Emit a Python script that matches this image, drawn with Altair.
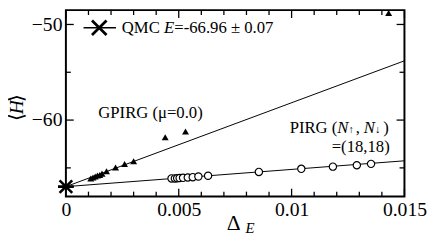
import altair as alt
import pandas as pd

# ---------------- data ----------------
gp_x = [0.0011, 0.0012, 0.0013, 0.0014, 0.0015, 0.0016, 0.0018, 0.0022, 0.0026, 0.0030, 0.0044, 0.0053, 0.0143]
gp_y = [-66.1, -66.0, -65.9, -65.8, -65.75, -65.6, -65.35, -64.95, -64.6, -64.3, -61.8, -61.2, -48.8]

pirg_x = [0.00468, 0.00483, 0.00493, 0.00504, 0.00519, 0.0054, 0.00562, 0.00587, 0.0063,
          0.00855, 0.01043, 0.01183, 0.01289, 0.01352]
pirg_y = [-66.1, -66.1, -66.08, -66.06, -66.04, -66.0, -65.97, -65.9, -65.82,
          -65.42, -65.1, -64.87, -64.72, -64.58]

fit_x = [0.0, 0.015]
gp_fit_y = [-66.96, -53.8]
pirg_fit_y = [-66.96, -64.26]

qmc_x = [0.0]
qmc_y = [-66.96]

x_major = [0.0, 0.005, 0.01, 0.015]
x_minor = [0.001, 0.002, 0.003, 0.004, 0.006, 0.007, 0.008, 0.009, 0.011, 0.012, 0.013, 0.014]
y_major = [-50, -60]
y_minor = [-55, -65]

W, H = 345, 190
FONT = "Times New Roman, Liberation Serif, serif"

xs = alt.Scale(domain=[0, 0.015], nice=False, zero=False)
ys = alt.Scale(domain=[-68, -48.5], nice=False, zero=False)

xaxis = alt.Axis(values=x_major, ticks=False, domain=False, grid=False,
                 labelFont=FONT, labelFontSize=20, labelColor="black",
                 labelPadding=3, labelFlush=False, labelOverlap=False,
                 labelExpr="datum.value == 0 ? '0' : toString(datum.value)", title=None)
yaxis = alt.Axis(values=y_major, ticks=False, domain=False, grid=False,
                 labelFont=FONT, labelFontSize=20, labelColor="black",
                 labelPadding=4, labelFlush=False, labelOverlap=False, title=None)

df_gp = pd.DataFrame({"x": gp_x, "y": gp_y})
df_pirg = pd.DataFrame({"x": pirg_x, "y": pirg_y})
df_gpfit = pd.DataFrame({"x": fit_x, "y": gp_fit_y})
df_pfit = pd.DataFrame({"x": fit_x, "y": pirg_fit_y})
df_qmc = pd.DataFrame({"x": qmc_x, "y": qmc_y})

X = alt.X("x:Q", scale=xs, axis=xaxis)
Y = alt.Y("y:Q", scale=ys, axis=yaxis)

gp_fit = alt.Chart(df_gpfit).mark_line(color="black", strokeWidth=1).encode(x=X, y=Y)
p_fit = alt.Chart(df_pfit).mark_line(color="black", strokeWidth=1).encode(x=X, y=Y)

tri = alt.Chart(df_gp).mark_point(shape="triangle-up", filled=True, color="black",
                                  size=50, opacity=1).encode(x=X, y=Y)
circ = alt.Chart(df_pirg).mark_point(shape="circle", filled=True, fill="white",
                                     stroke="black", strokeWidth=1.2, size=55,
                                     opacity=1).encode(x=X, y=Y)

XPATH = "M -1 -1 L 1 1 M -1 1 L 1 -1"
STAR = "M -0.8 -0.8 L 0.8 0.8 M -0.8 0.8 L 0.8 -0.8 M -1 0 L 1 0"
qmc = alt.Chart(df_qmc).mark_point(shape=STAR, filled=False, color="black",
                                   strokeWidth=2.6, size=260, opacity=1).encode(x=X, y=Y)

# tick marks (inward)
def vticks(vals, y0, y1):
    return alt.Chart(pd.DataFrame({"x": vals})).mark_rule(color="black", strokeWidth=1.3).encode(
        x=alt.X("x:Q", scale=xs), y=alt.value(y0), y2=alt.value(y1))

def hticks(vals, x0, x1):
    return alt.Chart(pd.DataFrame({"y": vals})).mark_rule(color="black", strokeWidth=1.3).encode(
        y=alt.Y("y:Q", scale=ys), x=alt.value(x0), x2=alt.value(x1))

ticks = [
    vticks(x_major, H, H - 8), vticks(x_minor, H, H - 5),
    vticks(x_major, 0, 8), vticks(x_minor, 0, 5),
    hticks(y_major, 0, 8), hticks(y_minor, 0, 5),
    hticks(y_major, W, W - 8), hticks(y_minor, W, W - 5),
]

# legend (QMC)
leg_line = alt.Chart(pd.DataFrame({"x": [0.000783], "x2": [0.002217], "y": [-50.35]})).mark_rule(
    color="black", strokeWidth=1.5).encode(x=alt.X("x:Q", scale=xs), x2="x2:Q", y=alt.Y("y:Q", scale=ys))
leg_mark = alt.Chart(pd.DataFrame({"x": [0.001478], "y": [-50.35]})).mark_point(
    shape=XPATH, filled=False, color="black", strokeWidth=2.8, size=220, opacity=1).encode(
    x=alt.X("x:Q", scale=xs), y=alt.Y("y:Q", scale=ys))

def txt(x, y, s, dx=0, dy=0, size=17, style="normal", align="left"):
    return alt.Chart(pd.DataFrame({"x": [x], "y": [y], "t": [s]})).mark_text(
        font=FONT, fontSize=size, fontStyle=style, color="black", align=align,
        baseline="middle", dx=dx, dy=dy).encode(
        x=alt.X("x:Q", scale=xs), y=alt.Y("y:Q", scale=ys), text="t:N")

texts = [
    txt(0.002478, -50.35, "QMC "),
    txt(0.002478, -50.35, "E", dx=43.0, style="italic"),
    txt(0.002478, -50.35, "=-66.96 \u00b1 0.07", dx=53.5),
    txt(0.001435, -59.28, "GPIRG (\u03bc=0.0)"),
    txt(0.009913, -60.82, "PIRG ("),
    txt(0.009913, -60.82, "N", dx=48.6, style="italic"),
    txt(0.009913, -60.82, "\u2191", dx=60.0, dy=2.5, size=11),
    txt(0.009913, -60.82, ",", dx=67.5),
    txt(0.009913, -60.82, "N", dx=75.5, style="italic"),
    txt(0.009913, -60.82, "\u2193", dx=87.0, dy=2.5, size=11),
    txt(0.009913, -60.82, ")", dx=95.5),
    txt(0.014348, -62.85, "=(18,18)", align="right"),
]

# axis titles
def ptxt(px, py, s, size, style="normal", angle=0, baseline="alphabetic", align="left"):
    return alt.Chart(pd.DataFrame({"t": [s]})).mark_text(
        font=FONT, fontSize=size, fontStyle=style, color="black", align=align,
        baseline=baseline, angle=angle).encode(
        x=alt.value(px), y=alt.value(py), text="t:N")

titles = [
    ptxt(164, 224, "\u0394", 22),
    ptxt(183, 227, "E", 15, style="italic"),
    ptxt(-50, 113, "\u27e8", 20, angle=270, baseline="middle"),
    ptxt(-50, 99, "H", 20, style="italic", angle=270, align="center", baseline="middle"),
    ptxt(-50, 85, "\u27e9", 20, angle=270, align="right", baseline="middle"),
]

chart = alt.layer(gp_fit, p_fit, tri, circ, qmc, *ticks, leg_line, leg_mark, *texts, *titles).properties(
    width=W, height=H,
    autosize=alt.AutoSizeParams(type="none"),
    padding={"left": 59, "top": 0, "right": 24, "bottom": 37},
).configure_view(stroke="black", strokeWidth=2)

chart.save("out.html", embed_options={"renderer": "svg", "actions": False})
